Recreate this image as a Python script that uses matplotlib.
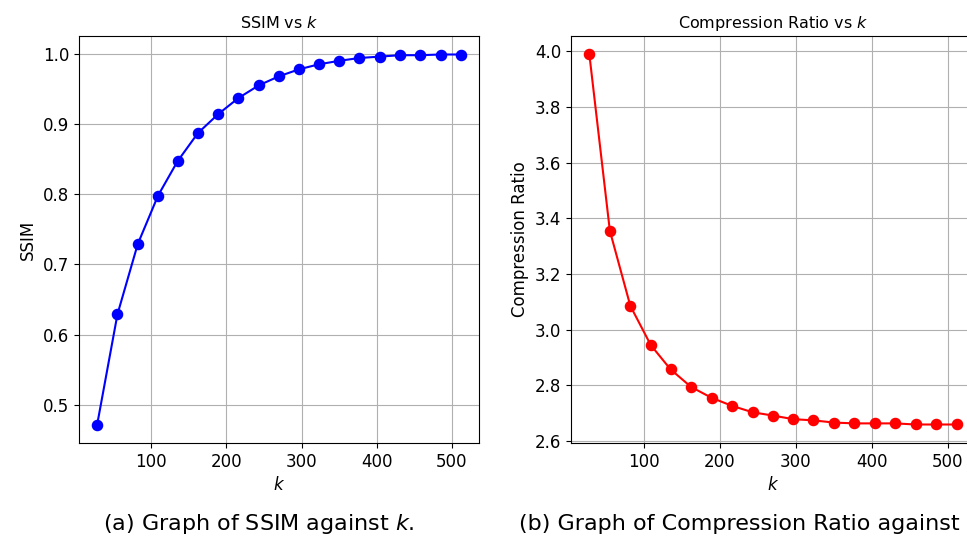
import matplotlib
matplotlib.use("Agg")
from matplotlib import pyplot as plt

# k values sampled for the low-rank approximation
k_values = [28, 55, 82, 109, 135, 162, 189, 216, 243, 270,
            297, 323, 350, 377, 404, 431, 458, 485, 512]

# structural similarity for each k
ssim_values = [0.472, 0.629, 0.729, 0.798, 0.847, 0.887, 0.914, 0.937, 0.955, 0.968,
               0.978, 0.985, 0.990, 0.994, 0.996, 0.998, 0.998, 0.999, 0.999]

# compression ratio for each k
ratio_values = [3.988, 3.355, 3.085, 2.944, 2.857, 2.794, 2.755, 2.726, 2.703, 2.691,
                2.678, 2.674, 2.666, 2.663, 2.663, 2.663, 2.659, 2.659, 2.659]

W, H = 967, 536
fig = plt.figure(figsize=(W / 100, H / 100), dpi=100)


def px_axes(left, top, right, bottom):
    return fig.add_axes([left / W, 1 - bottom / H, (right - left) / W, (bottom - top) / H])


# left panel: SSIM
ax1 = px_axes(79, 36, 479, 443)
ax1.plot(k_values, ssim_values, color='blue', marker='o', markersize=7.3, linewidth=1.5)
ax1.set_title('SSIM vs $k$', fontsize=11.5)
ax1.set_xlabel('$k$', fontsize=12)
ax1.set_ylabel('SSIM', fontsize=12)
ax1.set_xticks([100, 200, 300, 400, 500])
ax1.tick_params(labelsize=12)
ax1.grid(True)

# right panel: compression ratio (runs past the right edge like the cropped original)
ax2 = px_axes(571, 36, 975, 443)
ax2.plot(k_values, ratio_values, color='red', marker='o', markersize=7.3, linewidth=1.5)
ax2.set_title('Compression Ratio vs $k$', fontsize=11.5)
ax2.set_xlabel('$k$', fontsize=12)
ax2.set_ylabel('Compression Ratio', fontsize=12)
ax2.set_xticks([100, 200, 300, 400, 500])
ax2.tick_params(labelsize=12)
ax2.grid(True)

# sub-figure captions (the second one is cut short in the original screenshot)
fig.text(259 / W, 1 - 524 / H, '(a) Graph of SSIM against $k$.', fontsize=16,
         ha='center', va='center')
fig.text(519 / W, 1 - 524 / H, '(b) Graph of Compression Ratio against', fontsize=16,
         ha='left', va='center')

fig.savefig('out.png', dpi=100)
plt.close(fig)
